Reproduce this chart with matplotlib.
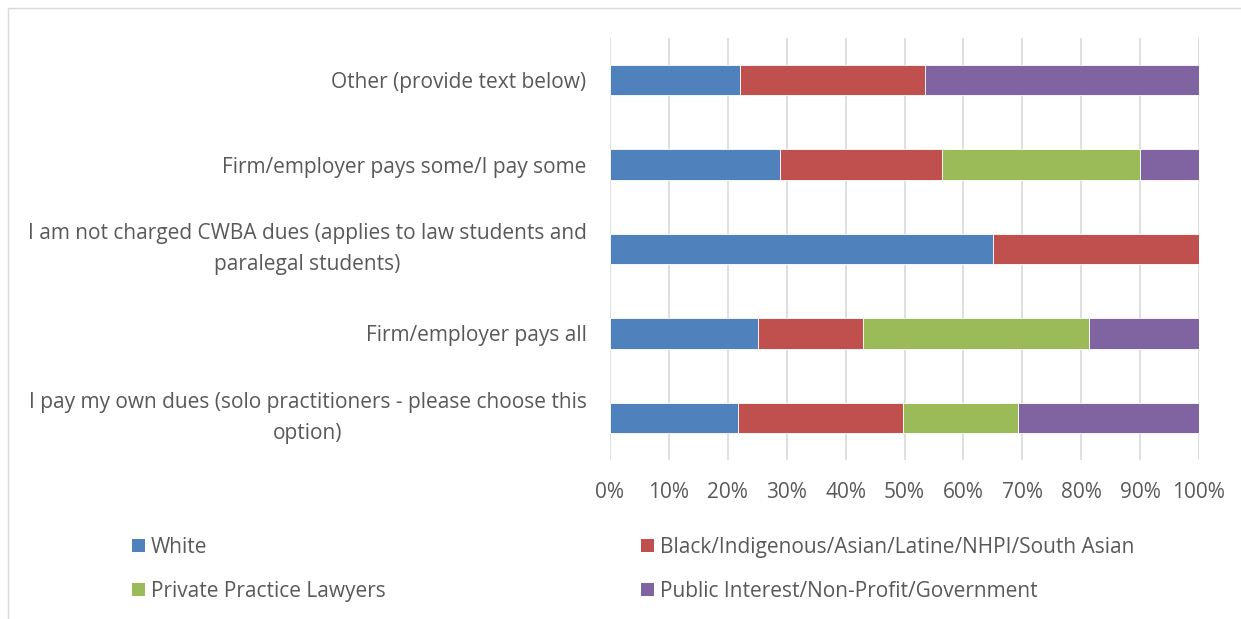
import matplotlib
matplotlib.use("Agg")
import matplotlib.pyplot as plt
from matplotlib.patches import Rectangle, Patch
from matplotlib.ticker import MultipleLocator, PercentFormatter

# Categories (bottom to top) and share of each group
categories = [
    "I pay my own dues (solo practitioners - please choose this\noption)",
    "Firm/employer pays all",
    "I am not charged CWBA dues (applies to law students and\nparalegal students)",
    "Firm/employer pays some/I pay some",
    "Other (provide text below)",
]
white = [21.8, 25.2, 65.1, 28.8, 22.0]
bipoc = [28.0, 17.8, 34.9, 27.5, 31.4]
private_practice = [19.4, 38.4, 0.0, 33.6, 0.0]
public_interest = [30.8, 18.6, 0.0, 10.1, 46.6]

series_names = [
    "White",
    "Black/Indigenous/Asian/Latine/NHPI/South Asian",
    "Private Practice Lawyers",
    "Public Interest/Non-Profit/Government",
]
colors = ["#4F81BD", "#C0504D", "#9BBB59", "#8064A2"]

plt.rcParams["font.family"] = ["Open Sans", "DejaVu Sans"]
text_color = "#595959"
fs = 15

fig = plt.figure(figsize=(12.41, 6.19), dpi=100)
ax = fig.add_axes([610 / 1241, 1 - 460 / 619, 589 / 1241, 422 / 619])

ypos = list(range(len(categories)))
left = [0.0] * len(categories)
for vals, col in zip([white, bipoc, private_practice, public_interest], colors):
    ax.barh(ypos, vals, left=left, height=0.36, color=col,
            edgecolor="white", linewidth=0.6, zorder=3)
    left = [l + v for l, v in zip(left, vals)]

ax.set_xlim(0, 100)
ax.set_ylim(-0.5, 4.5)
ax.xaxis.set_major_locator(MultipleLocator(10))
ax.xaxis.set_major_formatter(PercentFormatter(decimals=0))
ax.grid(axis="x", color="#D9D9D9", linewidth=1.2, zorder=0)
for s in ax.spines.values():
    s.set_visible(False)

ax.set_yticks(ypos)
ax.set_yticklabels(categories, multialignment="center", linespacing=1.6)
# wrapped labels centred on the bar
for lbl in ax.get_yticklabels():
    if "\n" in lbl.get_text():
        lbl.set_verticalalignment("center")
ax.tick_params(axis="y", length=0, pad=17, labelsize=fs, labelcolor=text_color)
ax.tick_params(axis="x", length=0, pad=16, labelsize=fs, labelcolor=text_color)

# Legend in two columns under the chart (column-first fill)
order = [0, 2, 1, 3]
handles = [Patch(facecolor=colors[i], edgecolor="none") for i in order]
labels = [series_names[i] for i in order]
fig.legend(handles, labels, ncol=2, loc="upper left",
           bbox_to_anchor=(113 / 1241, 1 - 518 / 619), frameon=False,
           fontsize=fs, labelcolor=text_color, handlelength=0.62,
           handleheight=0.62, handletextpad=0.3, columnspacing=12.25,
           labelspacing=1.1)

# Outer chart border
fig.patches.append(Rectangle((8 / 1241, -0.01), 1.0, 1 - 8 / 619 + 0.01,
                             transform=fig.transFigure, fill=False,
                             edgecolor="#D9D9D9", linewidth=1.0))

fig.savefig("out.png", dpi=100)
